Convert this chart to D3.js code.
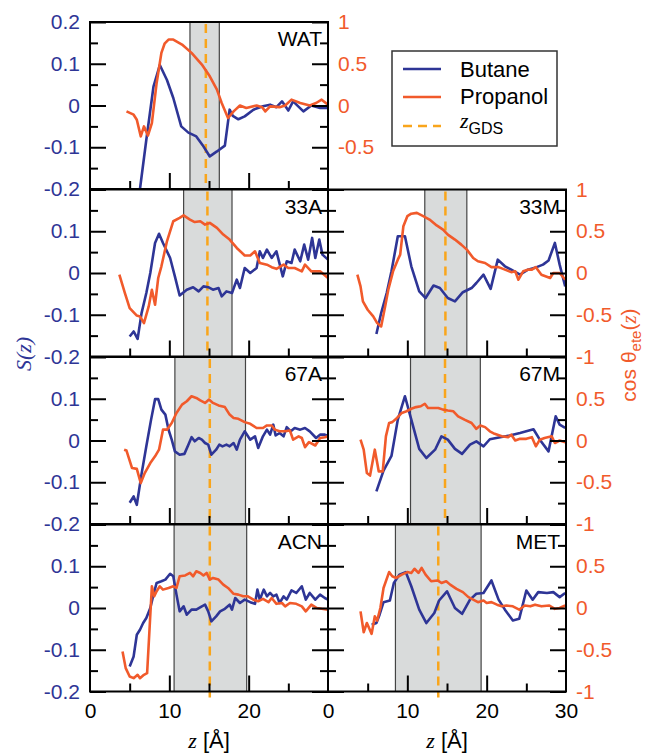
<!DOCTYPE html>
<html>
<head>
<meta charset="utf-8">
<script src="https://cdn.jsdelivr.net/npm/d3@7"></script>
<style>
  body { margin: 0; background: #fff; }
  svg { display: block; }
</style>
</head>
<body>
<div id="chart"></div>
<script>
// systems, one panel each
const systems = ["WAT", "33A", "67A", "ACN", "33M", "67M", "MET"];
// gray interfacial band [lo, hi] and z_GDS per system (Å)
const bandLo = [12.6, 11.8, 10.7, 10.6, 12.2, 10.4, 8.5];
const bandHi = [16.3, 17.9, 19.6, 19.75, 17.5, 19.2, 19.3];
const zGDS = [14.6, 14.8, 15.1, 15.1, 14.8, 14.75, 13.9];

// butane S(z): [z, S]
const butaneWAT = [[5.9,-0.3],[6.3,-0.2],[7.1,-0.082],[8.0,0.045],[8.8,0.097],[9.7,0.061],[10.5,0.018],[11.5,-0.05],[12.4,-0.065],[13.4,-0.074],[14.2,-0.095],[15.1,-0.122],[16.0,-0.11],[17.0,-0.096],[17.6,-0.01],[18.0,-0.025],[18.7,-0.033],[19.5,-0.026],[20.6,-0.01],[21.8,-0.002],[22.7,0.002],[23.5,-0.004],[24.2,0.01],[25.0,-0.012],[25.6,0.01],[26.9,-0.014],[27.9,0],[29.0,-0.006],[30,-0.006]];
const butane33A = [[5.0,-0.152],[5.5,-0.14],[6.0,-0.158],[6.5,-0.096],[7.1,-0.048],[7.6,0.0],[8.2,0.072],[8.7,0.094],[9.2,0.072],[10.1,0.036],[10.7,-0.008],[11.3,-0.054],[12.2,-0.04],[13.0,-0.034],[13.7,-0.044],[14.3,-0.032],[14.9,-0.034],[15.5,-0.04],[16.2,-0.036],[16.6,-0.056],[17.2,-0.044],[17.9,-0.048],[18.5,-0.016],[18.9,-0.036],[19.5,0.012],[20.2,0.0],[21.0,0.012],[21.4,0.052],[21.8,0.036],[22.3,0.056],[22.9,0.036],[23.5,0.052],[24.3,-0.008],[24.8,0.028],[25.4,0.024],[25.8,0.056],[26.5,0.028],[27.0,0.068],[27.5,0.032],[28.0,0.084],[28.4,0.036],[28.9,0.08],[29.3,0.044],[30,0.032]];
const butane67A = [[5.0,-0.149],[5.5,-0.134],[5.9,-0.154],[6.5,-0.08],[7.1,-0.014],[7.7,0.05],[8.2,0.099],[8.6,0.099],[9.0,0.074],[9.5,0.062],[9.9,0.026],[10.3,0.002],[10.7,-0.026],[11.3,-0.034],[11.9,-0.032],[12.4,-0.01],[12.8,0.008],[13.2,-0.002],[13.7,0.006],[14.1,0.002],[14.5,-0.006],[14.9,-0.01],[15.3,-0.034],[15.9,-0.022],[16.3,-0.01],[16.7,-0.014],[17.2,-0.01],[17.6,-0.014],[18.1,-0.006],[18.5,-0.022],[18.9,0.002],[19.5,0.022],[20.2,0.002],[20.8,0.01],[21.2,-0.018],[21.8,0.01],[22.3,0.026],[22.7,0.014],[23.1,0.038],[23.4,0.012],[23.9,0.018],[24.4,0.01],[24.8,0.032],[25.3,0.022],[25.8,0.03],[26.5,0.026],[27.1,0.03],[27.7,0.022],[28.5,0.006],[29.0,0.014],[29.6,0.014],[30,0.011]];
const butaneACN = [[5.0,-0.14],[5.5,-0.116],[5.9,-0.064],[6.3,-0.052],[6.7,-0.036],[7.1,-0.024],[7.6,0.0],[8.0,0.032],[8.4,0.06],[9.0,0.064],[9.5,0.068],[10.1,0.082],[10.5,0.076],[10.9,0.032],[11.3,-0.008],[11.8,0.004],[12.2,-0.016],[12.8,-0.004],[13.4,-0.004],[14.1,0.004],[14.5,0.008],[14.9,-0.008],[15.3,-0.032],[15.9,-0.02],[16.4,-0.008],[17.0,-0.002],[17.6,0.008],[17.9,-0.004],[18.3,0.024],[18.9,0.012],[19.5,0.02],[20.2,0.014],[20.8,0.01],[21.1,0.044],[21.4,0.02],[21.9,0.044],[22.3,0.028],[22.7,0.036],[23.1,0.028],[23.5,0.032],[23.9,0.012],[24.4,0.028],[24.8,0.02],[25.4,0.042],[26.0,0.036],[26.7,0.052],[27.2,0.02],[27.7,0.036],[28.4,0.02],[29.0,0.032],[29.6,0.024],[30,0.02]];
const butane33M = [[6.1,-0.146],[6.7,-0.096],[7.4,-0.048],[8.0,0.004],[8.8,0.088],[9.7,0.088],[10.5,0.016],[11.5,-0.044],[12.3,-0.06],[13.3,-0.03],[14.1,-0.036],[15.1,-0.06],[16.0,-0.068],[17.0,-0.046],[18.1,-0.036],[18.7,-0.024],[19.6,-0.004],[20.5,-0.038],[21.4,0.032],[22.3,0.016],[23.1,0.008],[24.2,-0.004],[25.2,0.008],[26.3,0.014],[27.1,0.02],[27.8,0.03],[28.6,0.072],[29.2,0.02],[29.9,-0.032]];
const butane67M = [[6.1,-0.122],[7.0,-0.072],[8.0,-0.037],[8.8,0.05],[9.7,0.106],[10.5,0.05],[11.5,-0.02],[12.4,-0.042],[13.5,-0.022],[14.3,0.01],[15.1,0.002],[16.0,-0.02],[16.9,-0.032],[17.9,-0.01],[18.7,-0.002],[19.6,-0.014],[20.4,0.003],[21.7,0.008],[22.9,0.012],[24.2,0.018],[25.9,0.027],[26.7,0.002],[27.8,-0.026],[28.7,0.058],[29.2,0.038],[29.9,0.03]];
const butaneMET = [[5.5,-0.04],[6.1,-0.036],[6.5,-0.016],[7.0,0.014],[7.8,0.018],[8.3,0.06],[9.0,0.08],[9.8,0.086],[10.5,0.052],[11.5,-0.004],[12.4,-0.036],[13.4,-0.012],[14.0,0.018],[15.0,0.04],[16.0,0.0],[16.9,-0.014],[17.9,0.02],[18.7,0.034],[19.6,0.036],[20.6,0.066],[21.5,0.02],[22.3,-0.004],[23.3,-0.03],[24.1,-0.026],[25.0,0.042],[25.8,0.02],[26.5,0.038],[27.6,0.036],[28.4,0.038],[29.2,0.026],[29.9,0.036]];

// propanol cos theta_ete(z): [z, cos]
const propanolWAT = [[4.6,-0.07],[5.5,-0.11],[5.9,-0.17],[6.4,-0.37],[6.8,-0.25],[7.3,-0.36],[7.8,-0.21],[8.4,0.27],[9.0,0.63],[9.4,0.74],[9.9,0.79],[10.5,0.79],[11.6,0.73],[12.8,0.63],[14.1,0.49],[15.1,0.35],[16.0,0.19],[16.6,0.03],[17.4,-0.15],[18.1,-0.07],[18.9,0],[19.7,-0.03],[21.0,0],[21.7,-0.02],[22.1,-0.07],[22.7,-0.01],[23.9,-0.02],[24.6,0.0],[25.4,0.07],[26.5,0.03],[27.7,0],[28.5,0.03],[29.2,0.07],[30,0.01]];
const propanol33A = [[3.7,-0.02],[4.4,-0.24],[5.0,-0.42],[5.9,-0.51],[6.3,-0.52],[6.8,-0.6],[7.4,-0.4],[7.8,-0.2],[8.2,-0.38],[8.6,-0.06],[9.0,0.08],[9.7,0.38],[10.5,0.62],[11.3,0.66],[11.8,0.69],[12.6,0.64],[13.2,0.61],[13.9,0.62],[14.5,0.58],[15.1,0.6],[16.0,0.54],[16.8,0.46],[17.6,0.4],[18.5,0.3],[19.5,0.21],[20.2,0.21],[20.8,0.26],[21.4,0.12],[22.3,0.1],[22.9,0.07],[23.5,0.05],[24.4,0.1],[25.0,0.06],[25.8,0.06],[26.7,0.02],[27.1,0.1],[27.9,0.02],[29.0,0.02],[30,-0.06]];
const propanol67A = [[4.3,-0.11],[4.6,-0.12],[5.3,-0.33],[5.9,-0.34],[6.4,-0.51],[6.9,-0.39],[7.6,-0.27],[8.2,-0.19],[8.7,-0.11],[9.2,0.13],[9.7,0.13],[10.3,0.21],[10.9,0.33],[11.6,0.43],[12.2,0.47],[12.8,0.53],[13.4,0.51],[13.9,0.48],[14.5,0.45],[15.0,0.49],[15.5,0.45],[16.2,0.42],[17.0,0.4],[17.6,0.31],[18.1,0.27],[18.7,0.26],[19.5,0.22],[20.2,0.2],[21.0,0.15],[21.8,0.15],[22.3,0.18],[22.9,0.18],[23.3,0.13],[23.9,0.11],[24.6,0.11],[25.2,0.12],[25.6,0.01],[26.3,0.05],[26.7,0.03],[27.1,-0.08],[27.6,-0.02],[28.4,-0.06],[29.0,0.03],[29.6,0.04],[30,0.05]];
const propanolACN = [[4.1,-0.52],[4.5,-0.72],[5.0,-0.82],[5.5,-0.84],[6.0,-0.8],[6.3,-0.84],[6.8,-0.8],[7.2,-0.78],[7.8,0.26],[8.1,0.14],[8.4,0.2],[8.8,0.26],[9.2,0.22],[9.9,0.24],[10.5,0.26],[10.9,0.24],[11.3,0.38],[12.0,0.39],[12.6,0.42],[13.0,0.38],[13.4,0.44],[13.9,0.42],[14.3,0.39],[14.7,0.42],[15.1,0.34],[15.5,0.36],[16.2,0.34],[16.8,0.28],[17.4,0.24],[18.1,0.17],[18.7,0.16],[19.3,0.14],[19.9,0.14],[20.6,0.1],[21.2,0.08],[21.8,0.11],[22.5,0.07],[22.9,0.12],[23.5,0.05],[24.2,0.06],[24.6,0.02],[25.2,0.06],[26.0,0.05],[26.7,0.02],[27.2,-0.04],[27.9,0.04],[28.6,0],[29.2,-0.01],[30,-0.02]];
const propanol33M = [[3.7,-0.02],[4.1,-0.16],[4.4,-0.34],[5.0,-0.44],[5.7,-0.52],[6.2,-0.6],[6.7,-0.64],[7.2,-0.4],[7.6,-0.2],[8.2,0.02],[8.8,0.16],[9.1,0.22],[9.5,0.56],[10.0,0.68],[10.5,0.71],[11.2,0.72],[12.0,0.68],[12.8,0.64],[13.7,0.57],[14.5,0.52],[15.1,0.46],[16.0,0.4],[16.8,0.34],[17.5,0.28],[18.3,0.18],[18.9,0.14],[19.8,0.12],[20.6,0.07],[21.5,0.07],[22.3,0.04],[23.1,0.01],[23.6,0.02],[24.0,-0.08],[24.6,0.02],[25.2,0.04],[25.7,0.04],[26.2,0.07],[26.9,-0.02],[28.0,-0.06],[28.4,0],[29.2,0],[29.9,-0.08]];
const propanol67M = [[4.1,0.01],[4.5,-0.11],[4.9,-0.39],[5.3,-0.42],[5.9,-0.11],[6.4,-0.37],[6.9,-0.37],[7.3,0.05],[7.7,0.21],[8.1,0.22],[8.7,0.27],[9.3,0.33],[9.9,0.35],[10.5,0.38],[11.1,0.4],[11.7,0.41],[12.2,0.44],[12.6,0.39],[13.3,0.39],[13.9,0.39],[14.5,0.37],[15.1,0.36],[15.8,0.35],[16.4,0.29],[17.2,0.25],[18.1,0.21],[18.7,0.14],[19.2,0.18],[19.8,0.16],[20.4,0.11],[21.0,0.08],[21.9,0.05],[22.7,0.04],[23.1,0.07],[23.6,0],[24.2,0.02],[25.0,0.02],[25.7,0.04],[26.2,-0.07],[26.7,0.01],[27.3,0.03],[28.2,0.05],[28.6,-0.03],[29.2,0],[29.9,-0.02]];
const propanolMET = [[4.1,-0.04],[4.5,-0.29],[4.9,-0.18],[5.5,-0.31],[5.9,-0.1],[6.2,-0.15],[6.6,0],[7.0,0.24],[7.7,0.43],[8.1,0.38],[8.6,0.36],[9.3,0.4],[10.0,0.43],[10.5,0.42],[10.9,0.47],[11.4,0.42],[11.8,0.48],[12.3,0.4],[13.0,0.32],[13.8,0.33],[14.3,0.3],[14.9,0.32],[15.4,0.28],[16.2,0.23],[17.0,0.19],[17.7,0.13],[18.3,0.1],[18.9,0.07],[19.6,0.09],[20.0,0.06],[20.6,0.07],[21.3,0.04],[21.9,0.02],[22.5,0.03],[23.3,0.02],[24.1,-0.02],[24.8,0.03],[25.5,0.02],[26.1,0.04],[26.9,0.02],[27.9,0.03],[28.6,-0.01],[29.2,0],[29.9,0.03]];

const butane = [butaneWAT, butane33A, butane67A, butaneACN, butane33M, butane67M, butaneMET];
const propanol = [propanolWAT, propanol33A, propanol67A, propanolACN, propanol33M, propanol67M, propanolMET];

// tick labels shown on each panel (shared borders drop the overlapping ones)
const sLabels = [[0.2,0.1,0,-0.1,-0.2],[0.1,0,-0.1,-0.2],[0.1,0,-0.1,-0.2],[0.1,0,-0.1,-0.2],[],[],[]];
const cLabels = [[1,0.5,0,-0.5],[],[],[],[1,0.5,0,-0.5,-1],[0.5,0,-0.5,-1],[0.5,0,-0.5,-1]];
const zLabels = [[],[],[],[0,10,20],[],[],[0,10,20,30]];

const blue = "#2e3596", orange = "#f15a2b", gold = "#f9a51b";
const cols = [[90, 328], [328, 566]];
const rowTop = [22, 189.5, 357, 524.5], panelH = 167;
const layout = [[0,0],[0,1],[0,2],[0,3],[1,1],[1,2],[1,3]];
const fs = "21px";

const svg = d3.select("#chart").append("svg")
  .attr("width", 649).attr("height", 755)
  .style("font-family", "'Liberation Sans', Arial, sans-serif");

const fmt = d => String(d);

systems.forEach(function(name, i) {
  const [x0, x1] = cols[layout[i][0]];
  const top = rowTop[layout[i][1]], bot = top + panelH;
  const x = d3.scaleLinear().domain([0, 30]).range([x0, x1]);
  const yS = d3.scaleLinear().domain([-0.2, 0.2]).range([bot, top]);
  const yC = d3.scaleLinear().domain([-1, 1]).range([bot, top]);
  const g = svg.append("g");

  g.append("clipPath").attr("id", "clip" + i)
    .append("rect").attr("x", x0).attr("y", top).attr("width", x1 - x0).attr("height", panelH);

  g.append("rect")
    .attr("x", x(bandLo[i])).attr("y", top)
    .attr("width", x(bandHi[i]) - x(bandLo[i])).attr("height", panelH)
    .attr("fill", "#d9dbdb");
  [bandLo[i], bandHi[i]].forEach(v => g.append("line")
    .attr("x1", x(v)).attr("x2", x(v)).attr("y1", top).attr("y2", bot)
    .attr("stroke", "#444").attr("stroke-width", 1.2));

  g.append("line")
    .attr("x1", x(zGDS[i])).attr("x2", x(zGDS[i])).attr("y1", top + 2).attr("y2", bot + 6)
    .attr("stroke", gold).attr("stroke-width", 2.5).attr("stroke-dasharray", "9,6");

  const plot = g.append("g").attr("clip-path", "url(#clip" + i + ")");
  plot.append("path").datum(butane[i])
    .attr("fill", "none").attr("stroke", blue).attr("stroke-width", 2.6).attr("stroke-linejoin", "round")
    .attr("d", d3.line().x(d => x(d[0])).y(d => yS(d[1])));
  plot.append("path").datum(propanol[i])
    .attr("fill", "none").attr("stroke", orange).attr("stroke-width", 2.6).attr("stroke-linejoin", "round")
    .attr("d", d3.line().x(d => x(d[0])).y(d => yC(d[1])));

  g.append("rect").attr("x", x0).attr("y", top).attr("width", x1 - x0).attr("height", panelH)
    .attr("fill", "none").attr("stroke", "#000").attr("stroke-width", 2);

  // ticks, pointing inward
  function ticks(axis, tr) {
    const a = g.append("g").attr("transform", tr).call(axis);
    a.select(".domain").remove();
    a.selectAll("line").attr("stroke", "#000").attr("stroke-width", 2);
    return a;
  }
  const major = [-0.2, -0.1, 0, 0.1, 0.2], minor = [-0.15, -0.05, 0.05, 0.15];
  ticks(d3.axisLeft(yS).tickValues(minor).tickSize(-8).tickFormat(""), `translate(${x0},0)`);
  ticks(d3.axisRight(yS).tickValues(minor).tickSize(-8).tickFormat(""), `translate(${x1},0)`);
  ticks(d3.axisBottom(x).tickValues([5, 15, 25]).tickSize(-8).tickFormat(""), `translate(0,${bot})`);
  ticks(d3.axisBottom(x).tickValues([10, 20]).tickSize(-16).tickFormat(""), `translate(0,${bot})`);

  const l = ticks(d3.axisLeft(yS).tickValues(major).tickSize(-16).tickPadding(10)
      .tickFormat(d => sLabels[i].includes(d) ? fmt(d) : ""), `translate(${x0},0)`);
  l.selectAll("text").attr("fill", blue).style("font-size", fs);
  const r = ticks(d3.axisRight(yC).tickValues([-1, -0.5, 0, 0.5, 1]).tickSize(-16).tickPadding(10)
      .tickFormat(d => cLabels[i].includes(d) ? fmt(d) : ""), `translate(${x1},0)`);
  r.selectAll("text").attr("fill", orange).style("font-size", fs);
  if (zLabels[i].length) {
    const b = g.append("g").attr("transform", `translate(0,${bot})`)
      .call(d3.axisBottom(x).tickValues(zLabels[i]).tickSize(0).tickPadding(12).tickFormat(fmt));
    b.select(".domain").remove();
    b.selectAll("text").attr("fill", "#000").style("font-size", fs);
    g.append("text").attr("x", (x0 + x1) / 2).attr("y", 748).attr("text-anchor", "middle")
      .style("font-size", "22px")
      .call(t => {
        t.append("tspan").text("z").style("font-family", "'Liberation Serif', serif").style("font-style", "italic");
        t.append("tspan").text(" [Å]");
      });
  }

  g.append("text").attr("x", x1 - 6).attr("y", top + 24).attr("text-anchor", "end")
    .style("font-size", fs).text(name);
});

// axis titles
svg.append("text").attr("transform", "translate(31,354) rotate(-90)").attr("text-anchor", "middle")
  .attr("fill", blue).style("font-size", "22px").style("font-family", "'Liberation Serif', serif")
  .style("font-style", "italic").text("S(z)");

const ct = svg.append("text").attr("transform", "translate(636,355) rotate(-90)").attr("text-anchor", "middle")
  .attr("fill", orange).style("font-size", "21px");
ct.append("tspan").text("cos θ");
ct.append("tspan").attr("dy", 5).style("font-size", "15px").text("ete");
ct.append("tspan").attr("dy", -5).text("(");
ct.append("tspan").style("font-family", "'Liberation Serif', serif").style("font-style", "italic").text("z");
ct.append("tspan").text(")");

// legend
const lg = svg.append("g");
lg.append("rect").attr("x", 392).attr("y", 51).attr("width", 165).attr("height", 95)
  .attr("fill", "#fff").attr("stroke", "#333").attr("stroke-width", 1.5);
const items = [{c: blue, dash: null, y: 69}, {c: orange, dash: null, y: 97}, {c: gold, dash: "9,6", y: 126}];
items.forEach(it => lg.append("line").attr("x1", 403).attr("x2", 441).attr("y1", it.y).attr("y2", it.y)
  .attr("stroke", it.c).attr("stroke-width", 2.5).attr("stroke-dasharray", it.dash));
lg.append("text").attr("x", 460).attr("y", 77).style("font-size", "22px").text("Butane");
lg.append("text").attr("x", 460).attr("y", 104).style("font-size", "22px").text("Propanol");
const zt = lg.append("text").attr("x", 460).attr("y", 128).style("font-size", "22px");
zt.append("tspan").style("font-family", "'Liberation Serif', serif").style("font-style", "italic").text("z");
zt.append("tspan").attr("dy", 6).style("font-size", "16px").text("GDS");
</script>
</body>
</html>
